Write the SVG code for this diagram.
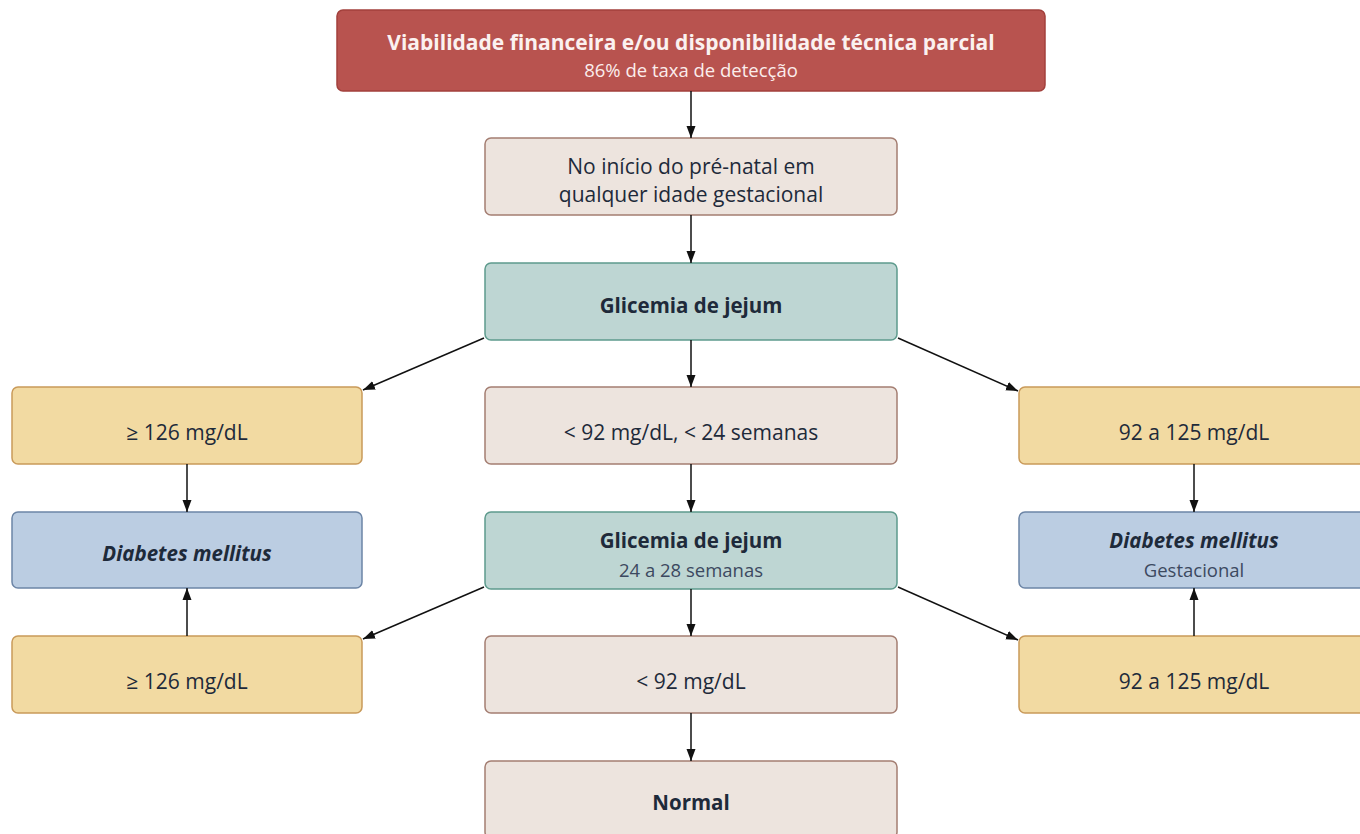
<svg xmlns="http://www.w3.org/2000/svg" width="1360" height="834" viewBox="0 0 1360 834">
<defs>
<marker id="ah" viewBox="0 0 12 10" refX="12" refY="5" markerWidth="12" markerHeight="10" markerUnits="userSpaceOnUse" orient="auto">
<path d="M0,0.5 L12,5 L0,9.5 Z" fill="#111"/>
</marker>
<style>
.box{stroke-width:1.5}
.red{fill:#B8534F;stroke:#A2403C}
.beige{fill:#EDE4DE;stroke:#A47E72}
.teal{fill:#BED6D3;stroke:#5E9B8D}
.yel{fill:#F2DAA2;stroke:#C99A5A}
.blue{fill:#BBCDE2;stroke:#6C85A6}
text{font-family:"Open Sans","Noto Sans",sans-serif;text-anchor:middle;fill:#1E2A3A}
.r{font-size:21px}
.b{font-size:20.5px;font-weight:bold}
.t{font-size:21px;font-weight:bold;fill:#FBF1F0}
.bi{font-size:20.5px;font-weight:bold;font-style:italic}
.s{font-size:18.5px;fill:#3C4960}
.conn line{stroke:#111;stroke-width:1.5;marker-end:url(#ah)}
</style>
</defs>
<rect width="1360" height="834" fill="#FFFFFF"/>
<g id="top">
<rect class="box red" x="337" y="10" width="708" height="81" rx="6"/>
<text class="t" x="691" y="50">Viabilidade financeira e/ou disponibilidade técnica parcial</text>
<text class="s" x="691" y="77" style="fill:#FBEDEC">86% de taxa de detecção</text>
</g>
<g id="inicio">
<rect class="box beige" x="485" y="138" width="412" height="77" rx="6"/>
<text class="r" x="691" y="174">No início do pré-natal em</text>
<text class="r" x="691" y="202">qualquer idade gestacional</text>
</g>
<g id="glic1">
<rect class="box teal" x="485" y="263" width="412" height="77" rx="6"/>
<text class="b" x="691" y="313">Glicemia de jejum</text>
</g>
<g id="left1">
<rect class="box yel" x="12" y="387" width="350" height="77" rx="6"/>
<text class="r" x="187" y="440">≥ 126 mg/dL</text>
</g>
<g id="mid1">
<rect class="box beige" x="485" y="387" width="412" height="77" rx="6"/>
<text class="r" x="691" y="440">&lt; 92 mg/dL, &lt; 24 semanas</text>
</g>
<g id="right1">
<rect class="box yel" x="1019" y="387" width="350" height="77" rx="6"/>
<text class="r" x="1194" y="440">92 a 125 mg/dL</text>
</g>
<g id="dm">
<rect class="box blue" x="12" y="512" width="350" height="76" rx="6"/>
<text class="bi" x="187" y="561">Diabetes mellitus</text>
</g>
<g id="glic2">
<rect class="box teal" x="485" y="512" width="412" height="77" rx="6"/>
<text class="b" x="691" y="548">Glicemia de jejum</text>
<text class="s" x="691" y="577">24 a 28 semanas</text>
</g>
<g id="dmg">
<rect class="box blue" x="1019" y="512" width="350" height="76" rx="6"/>
<text class="bi" x="1194" y="548">Diabetes mellitus</text>
<text class="s" x="1194" y="577">Gestacional</text>
</g>
<g id="left2">
<rect class="box yel" x="12" y="636" width="350" height="77" rx="6"/>
<text class="r" x="187" y="689">≥ 126 mg/dL</text>
</g>
<g id="mid2">
<rect class="box beige" x="485" y="636" width="412" height="77" rx="6"/>
<text class="r" x="691" y="689">&lt; 92 mg/dL</text>
</g>
<g id="right2">
<rect class="box yel" x="1019" y="636" width="350" height="77" rx="6"/>
<text class="r" x="1194" y="689">92 a 125 mg/dL</text>
</g>
<g id="normal">
<rect class="box beige" x="485" y="761" width="412" height="77" rx="6"/>
<text class="b" x="691" y="810">Normal</text>
</g>
<g id="connectors" class="conn">
<line x1="691" y1="91" x2="691" y2="138"/>
<line x1="691" y1="215" x2="691" y2="263"/>
<line x1="691" y1="340" x2="691" y2="387"/>
<line x1="484" y1="338" x2="363" y2="390"/>
<line x1="898" y1="338" x2="1018" y2="391"/>
<line x1="187" y1="464" x2="187" y2="512"/>
<line x1="1194" y1="464" x2="1194" y2="512"/>
<line x1="691" y1="464" x2="691" y2="512"/>
<line x1="484" y1="587" x2="363" y2="639"/>
<line x1="898" y1="587" x2="1018" y2="640"/>
<line x1="691" y1="589" x2="691" y2="636"/>
<line x1="187" y1="636" x2="187" y2="588"/>
<line x1="1194" y1="636" x2="1194" y2="588"/>
<line x1="691" y1="713" x2="691" y2="761"/>
</g>
</svg>
